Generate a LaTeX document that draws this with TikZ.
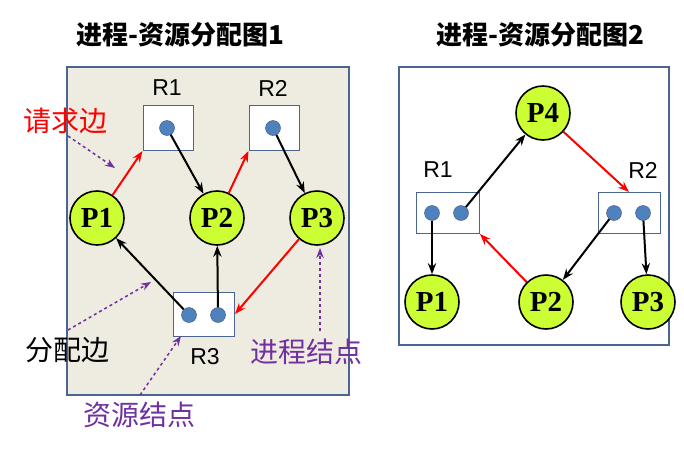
\documentclass[tikz,border=0pt]{standalone}
\usepackage{fontspec}
\setmainfont{Liberation Serif}
\newfontfamily\cjk{Noto Sans CJK SC}
\newfontfamily\rsans{Liberation Sans}
\usetikzlibrary{arrows.meta}
\definecolor{panelbg}{HTML}{EEEBE0}
\definecolor{panelln}{HTML}{4A6690}
\definecolor{procfill}{HTML}{CCFF33}
\definecolor{dotfill}{HTML}{4F81BD}
\definecolor{notecol}{HTML}{7030A0}
\tikzset{
  proc/.style={circle, draw=black, line width=1.6pt, fill=procfill, minimum size=54pt, inner sep=0pt, font=\bfseries\fontsize{29}{29}\selectfont},
  res/.style={draw=panelln, line width=1pt, fill=white, minimum width=50pt, minimum height=45pt, inner sep=0pt},
  dot/.style={circle, draw=panelln!80!black, fill=dotfill, minimum size=15pt, inner sep=0pt},
  rlab/.style={font=\rsans\fontsize{23}{23}\selectfont},
  req/.style={red, line width=2pt, -{Stealth[length=11pt]}},
  alc/.style={black, line width=2pt, -{Stealth[length=11pt]}},
  note/.style={notecol, dashed, line width=1.5pt, -{Stealth[length=10pt]}},
  lab/.style={font=\cjk\fontsize{28}{28}\selectfont},
  title/.style={font=\cjk\bfseries\fontsize{26}{26}\selectfont}
}
\begin{document}
\begin{tikzpicture}[x=1pt, y=-1pt]
  \useasboundingbox (0,0) rectangle (684,453);
  % titles
  \node[title] at (180,35) {进程-资源分配图1};
  \node[title] at (540,35) {进程-资源分配图2};
  % panels
  \draw[panelln, line width=1.2pt, fill=panelbg] (67,67) rectangle (349,395);
  \draw[panelln, line width=1.2pt, fill=white] (399,67) rectangle (669,345);

  % left graph
  \node (aR1) [res] at (168,128) {};
  \node (aR2) [res] at (274,128) {};
  \node (aR3) [res, minimum width=61pt, minimum height=44pt] at (204,314) {};
  \node (aR1d) [dot] at (167,128) {};
  \node (aR2d) [dot] at (273,128) {};
  \node (aR3a) [dot] at (189,315) {};
  \node (aR3b) [dot] at (218,315) {};
  \node [rlab] at (167,88) {R1};
  \node [rlab] at (273,88) {R2};
  \node [rlab] at (205,357) {R3};
  \node (aP1) [proc] at (97,218) {P1};
  \node (aP2) [proc] at (217,218) {P2};
  \node (aP3) [proc] at (317,218) {P3};

  \draw[req] (aP1) -- (aR1.south west);
  \draw[alc] (aR1d) -- (aP2);
  \draw[req] (aP2) -- (aR2.south west);
  \draw[alc] (aR2d) -- (aP3);
  \draw[alc] (aR3a) -- (aP1);
  \draw[alc] (aR3b) -- (aP2);
  \draw[req] (aP3) -- (aR3.east);

  % notes
  \node (nReq) [lab, red] at (65,121) {请求边};
  \node (nAlc) [lab] at (67,350) {分配边};
  \node (nRes) [lab, notecol] at (139,415) {资源结点};
  \node (nProc) [lab, notecol] at (306,352) {进程结点};
  \coordinate (tReq) at (115,168);
  \coordinate (tAlc) at (151,282);
  \coordinate (tRes) at (181,336);
  \coordinate (tProc) at (320,248);
  \draw[note] (68,136) -- (tReq);
  \draw[note] (68,330) -- (tAlc);
  \draw[note] (140,395) -- (tRes);
  \draw[note] (320,331) -- (tProc);

  % right graph
  \node (bR1) [res, minimum width=63pt, minimum height=41pt] at (448,213) {};
  \node (bR2) [res, minimum width=62pt, minimum height=41pt] at (629,213) {};
  \node (bR1a) [dot] at (432,213) {};
  \node (bR1b) [dot] at (461,213) {};
  \node (bR2a) [dot] at (614,213) {};
  \node (bR2b) [dot] at (643,213) {};
  \node [rlab] at (438,170) {R1};
  \node [rlab] at (643,170) {R2};
  \node (bP4) [proc] at (543,113) {P4};
  \node (bP1) [proc] at (432,302) {P1};
  \node (bP2) [proc] at (546,302) {P2};
  \node (bP3) [proc] at (648,302) {P3};

  \draw[alc] (bR1b) -- (bP4);
  \draw[req] (bP4) -- (bR2.north);
  \draw[alc] (bR1a) -- (bP1);
  \draw[alc] (bR2a) -- (bP2);
  \draw[alc] (bR2b) -- (bP3);
  \draw[req] (bP2) -- (bR1.south east);
\end{tikzpicture}
\end{document}
